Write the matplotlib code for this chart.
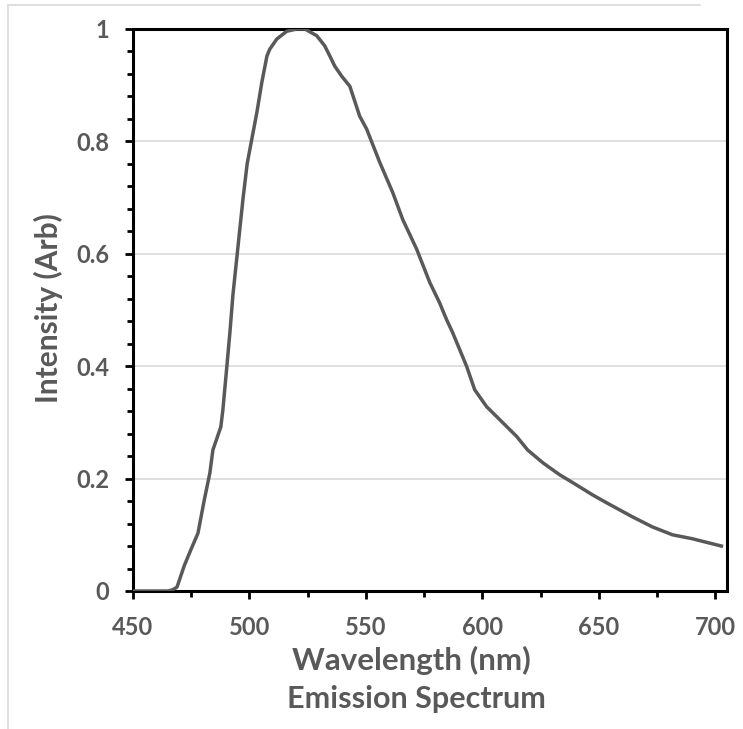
import matplotlib
matplotlib.use("Agg")
import matplotlib.pyplot as plt
from matplotlib.lines import Line2D
from matplotlib.ticker import MultipleLocator, FixedLocator, FixedFormatter

wavelength = [450, 455, 460, 465, 467, 468.9, 472, 475, 477.9, 480.5, 483, 484.3,
              487.7, 488.6, 490.3, 491.6, 492.9, 495, 497.2, 499, 501, 503.2, 505.3,
              507.5, 508.7, 511.7, 516, 520.3, 523.8, 528.9, 532.3, 534.5, 536.6,
              539.6, 543.1, 547.3, 550.3, 555.9, 561.5, 565.8, 571.8, 577.4, 581.6,
              584.6, 587.2, 593.2, 596.7, 601.8, 607.4, 614.7, 619.4, 626, 633.1,
              638.7, 647.3, 653.3, 664.4, 673, 681.6, 690.1, 702.6]
intensity = [0.0, 0.0, 0.0, 0.0, 0.002, 0.007, 0.045, 0.075, 0.103, 0.16, 0.21, 0.251,
             0.292, 0.323, 0.40, 0.46, 0.527, 0.61, 0.697, 0.76, 0.804, 0.852, 0.905,
             0.952, 0.964, 0.982, 0.996, 1.0, 1.0, 0.988, 0.97, 0.952, 0.934,
             0.916, 0.898, 0.845, 0.822, 0.763, 0.709, 0.661, 0.608, 0.549, 0.513,
             0.483, 0.46, 0.40, 0.358, 0.328, 0.305, 0.275, 0.251, 0.228, 0.207,
             0.193, 0.171, 0.157, 0.132, 0.114, 0.10, 0.093, 0.080]

x_ticks = [450, 500, 550, 600, 650, 700]
y_ticks = [0, 0.2, 0.4, 0.6, 0.8, 1.0]
y_tick_labels = ["0", "0.2", "0.4", "0.6", "0.8", "1"]

W, H = 743, 729
fig = plt.figure(figsize=(W / 100, H / 100), dpi=100)
FONT = ["Lato", "DejaVu Sans"]
TXT = "#595959"

ax = fig.add_axes([133 / W, 1 - 591 / H, (727 - 133) / W, (591 - 29) / H])
ax.plot(wavelength, intensity, color="#595959", lw=2.5, solid_joinstyle="round", zorder=3)

ax.set_xlim(450, 705)
ax.set_ylim(0, 1)
ax.xaxis.set_major_locator(FixedLocator(x_ticks))
ax.xaxis.set_minor_locator(MultipleLocator(25))
ax.yaxis.set_major_locator(FixedLocator(y_ticks))
ax.yaxis.set_major_formatter(FixedFormatter(y_tick_labels))
ax.yaxis.set_minor_locator(MultipleLocator(0.04))

ax.grid(axis="y", which="major", color="#d9d9d9", lw=1.2, zorder=0)
for s in ax.spines.values():
    s.set_color("black")
    s.set_linewidth(2.2)

ax.tick_params(which="major", direction="out", length=6, width=2, color="black",
               labelsize=17, labelcolor=TXT)
ax.tick_params(which="minor", direction="out", length=4, width=2, color="black")
ax.tick_params(axis="y", which="major", pad=11)
ax.tick_params(axis="x", which="major", pad=12)
for lab in ax.get_xticklabels() + ax.get_yticklabels():
    lab.set_fontfamily(FONT)
    lab.set_fontweight("bold")

fig.text(411 / W, 1 - 670 / H, "Wavelength (nm)", ha="center", va="baseline",
         fontsize=22.5, fontweight="bold", color=TXT, family=FONT)
fig.text(416 / W, 1 - 708 / H, "Emission Spectrum", ha="center", va="baseline",
         fontsize=22, fontweight="bold", color=TXT, family=FONT)
fig.text(48 / W, 1 - 308 / H, "Intensity (Arb)", ha="center", va="center", rotation=90,
         fontsize=21.5, fontweight="bold", color=TXT, family=FONT)

# light outer chart border (partially visible)
fig.add_artist(Line2D([8 / W, 700 / W], [1 - 5 / H, 1 - 5 / H], color="#d9d9d9", lw=1.2))
fig.add_artist(Line2D([8 / W, 8 / W], [1 - 5 / H, 0], color="#d9d9d9", lw=1.2))

fig.savefig("out.png", dpi=100, facecolor="white")
